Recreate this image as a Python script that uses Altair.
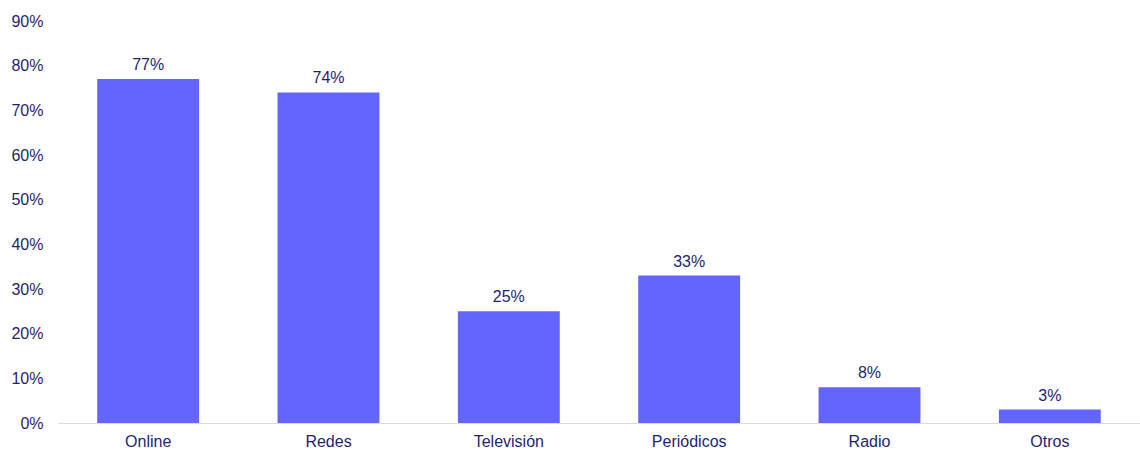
import altair as alt
import pandas as pd

# Media channels and share of respondents using each
canales = ["Online", "Redes", "Televisión", "Periódicos", "Radio", "Otros"]
porcentajes = [0.77, 0.74, 0.25, 0.33, 0.08, 0.03]
etiquetas = ["77%", "74%", "25%", "33%", "8%", "3%"]

df = pd.DataFrame({"canal": canales, "valor": porcentajes, "etiqueta": etiquetas})

NAVY = "#1f1f6e"
FONT = "Liberation Sans"

x = alt.X(
    "canal:N",
    sort=canales,
    title=None,
    scale=alt.Scale(paddingInner=0.435, paddingOuter=0.2175),
    axis=alt.Axis(
        labelAngle=0,
        labelFontSize=16,
        labelColor=NAVY,
        labelFont=FONT,
        labelPadding=10,
        ticks=False,
        domainColor="#dcdcdc",
        domainWidth=1,
    ),
)
y = alt.Y(
    "valor:Q",
    title=None,
    scale=alt.Scale(domain=[0, 0.9], nice=False),
    axis=alt.Axis(
        format=".0%",
        values=[i / 10 for i in range(10)],
        labelFontSize=16,
        labelColor=NAVY,
        labelFont=FONT,
        labelPadding=15,
        ticks=False,
        domain=False,
        grid=False,
    ),
)

bars = alt.Chart(df).mark_bar(color="#6464fe").encode(x=x, y=y)
labels = alt.Chart(df).mark_text(
    dy=-14, fontSize=16, color=NAVY, font=FONT
).encode(x=x, y=y, text="etiqueta:N")

chart = (
    (bars + labels)
    .properties(
        width=1082,
        height=402,
        padding={"left": 58, "top": 21, "right": 0, "bottom": 30},
        autosize=alt.AutoSizeParams(type="none"),
        background="white",
    )
    .configure_view(stroke=None)
)

chart.save("out.html", embed_options={"renderer": "svg", "actions": False})
